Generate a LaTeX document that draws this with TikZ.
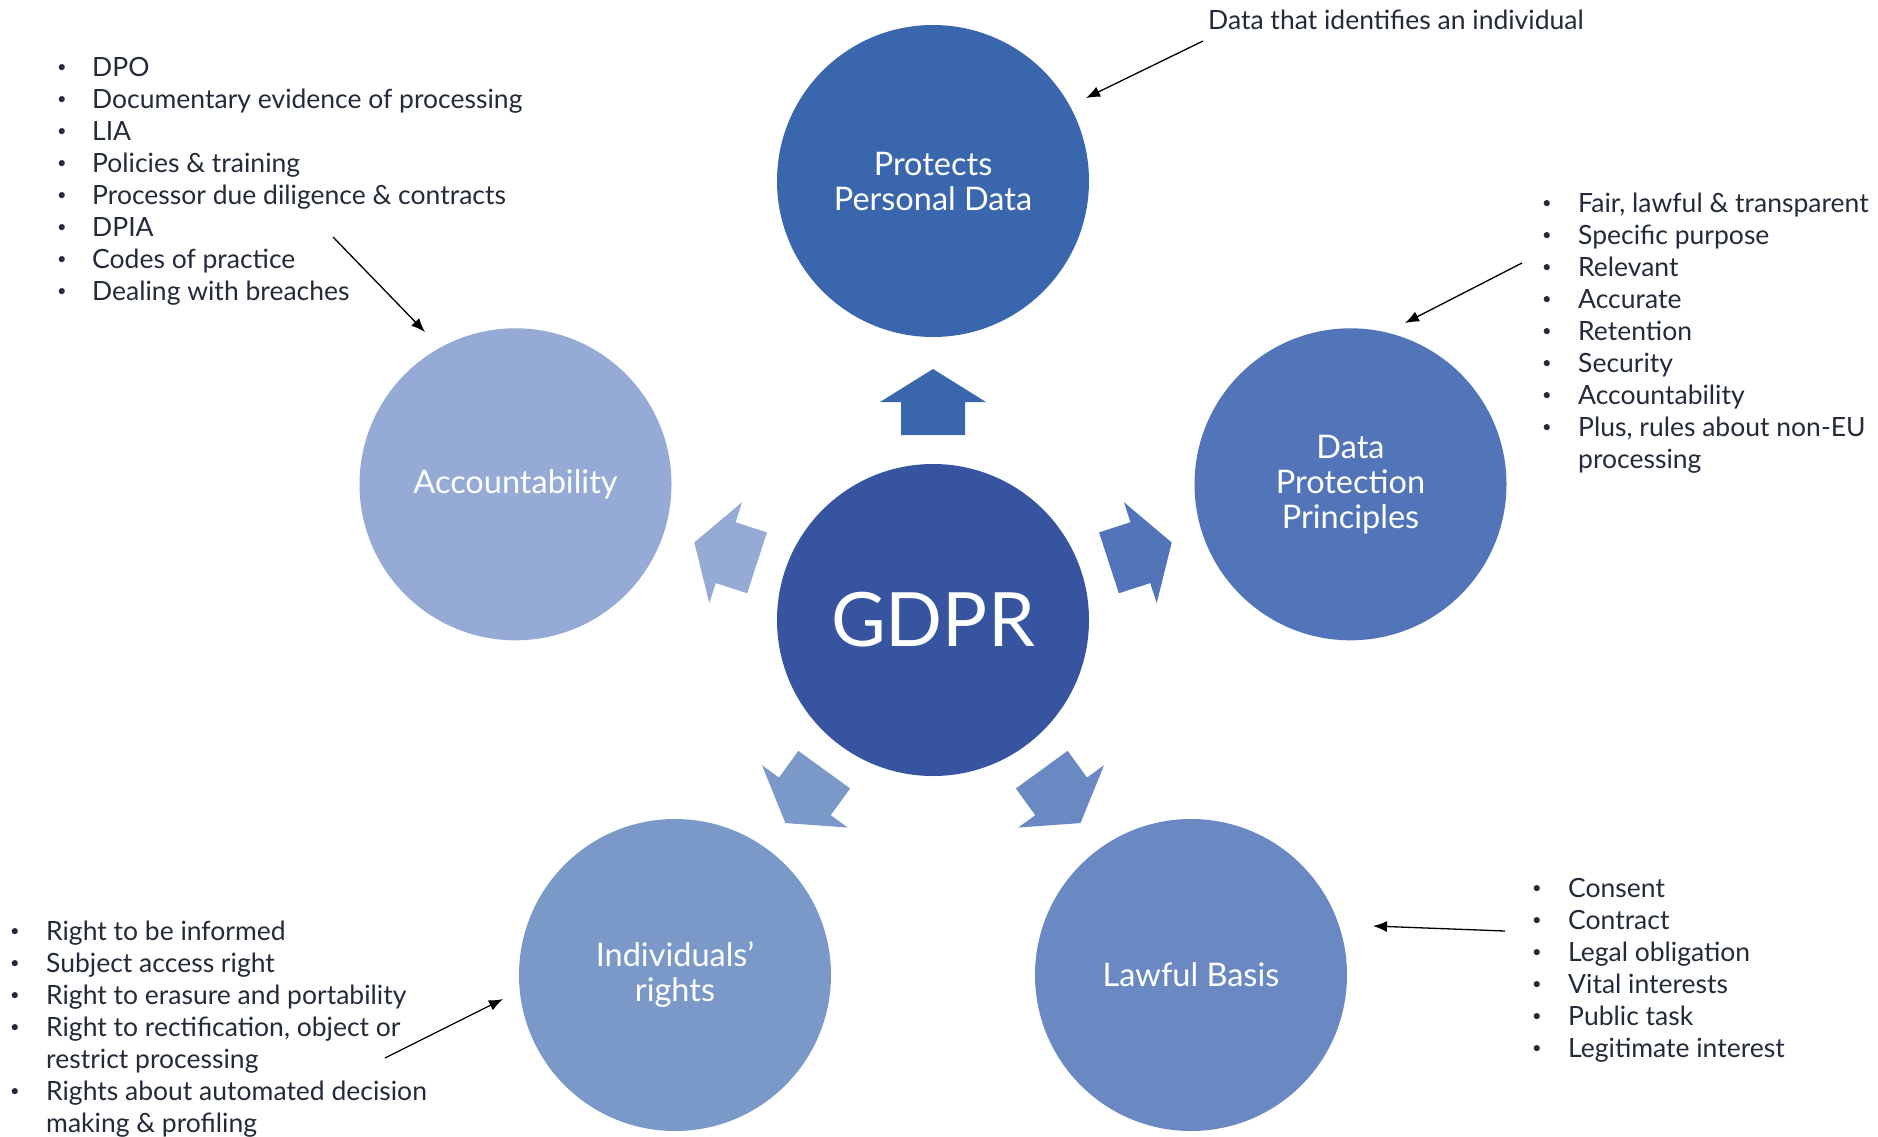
\documentclass[tikz,border=0pt]{standalone}
\usepackage{graphicx}
\usepackage{fontspec}
\setmainfont{Lato}
\usetikzlibrary{arrows.meta}
\definecolor{cGDPR}{HTML}{3754A0}
\definecolor{cTop}{HTML}{3A66AE}
\definecolor{cDPP}{HTML}{5275B9}
\definecolor{cLaw}{HTML}{6A89C2}
\definecolor{cInd}{HTML}{7A99C8}
\definecolor{cAcc}{HTML}{95AAD4}
\definecolor{txt}{HTML}{232B38}
\newcommand{\smallbul}{\raisebox{0.12em}{\scalebox{0.62}{\textbullet}}}
\begin{document}
\begin{tikzpicture}[x=1pt,y=-1pt,
  circ/.style={circle, minimum size=312pt, inner sep=0pt, text=white,
    font=\fontsize{32.5}{35}\selectfont, align=center},
  listtxt/.style={inner sep=0pt, text=txt, font=\fontsize{26.5}{32}\selectfont, anchor=base west},
  ptr/.style={draw=black, line width=1.3pt, -{Latex[length=14pt,width=11pt]}}]
\path[fill=white] (0,0) rectangle (1878,1136);
\useasboundingbox (0,0) rectangle (1878,1136);

% circles
\node[circ, fill=cGDPR, font=\fontsize{75}{90}\selectfont] (gdpr) at (933,620) {GDPR};
\node[circ, fill=cTop] (ppd) at (933,181) {Protects\\Personal Data};
\node[circ, fill=cDPP] (dpp) at (1350.5,484.3) {Data\\Protection\\Principles};
\node[circ, fill=cLaw] (law) at (1191,975) {Lawful Basis};
\node[circ, fill=cInd] (ind) at (675,975) {Individuals’\\rights};
\node[circ, fill=cAcc] (acc) at (515.5,484.3) {Accountability};

% block arrows
\foreach \ang/\col in {90/cTop, 18/cDPP, -54/cLaw, -126/cInd, 162/cAcc} {
  \fill[\col, shift={(933,620)}, rotate=\ang]
    (185,-32) -- (218,-32) -- (218,-53) -- (251,0) -- (218,53) -- (218,32) -- (185,32) -- cycle;
}

% texts
\node[listtxt] (dti) at (1208,29) {Data that identifies an individual};

\node[listtxt] (acclist) at (57,76) {\begin{tabular}[t]{@{}p{35pt}@{}l@{}}
\smallbul & DPO\\
\smallbul & Documentary evidence of processing\\
\smallbul & LIA\\
\smallbul & Policies \& training\\
\smallbul & Processor due diligence \& contracts\\
\smallbul & DPIA\\
\smallbul & Codes of practice\\
\smallbul & Dealing with breaches
\end{tabular}};

\node[listtxt] (dpplist) at (1542,212) {\begin{tabular}[t]{@{}p{36pt}@{}l@{}}
\smallbul & Fair, lawful \& transparent\\
\smallbul & Specific purpose\\
\smallbul & Relevant\\
\smallbul & Accurate\\
\smallbul & Retention\\
\smallbul & Security\\
\smallbul & Accountability\\
\smallbul & Plus, rules about non-EU\\
 & processing
\end{tabular}};

\node[listtxt] (indlist) at (10,940) {\begin{tabular}[t]{@{}p{36pt}@{}l@{}}
\smallbul & Right to be informed\\
\smallbul & Subject access right\\
\smallbul & Right to erasure and portability\\
\smallbul & Right to rectification, object or\\
 & restrict processing\\
\smallbul & Rights about automated decision\\
 & making \& profiling
\end{tabular}};

\node[listtxt] (lawlist) at (1532,897) {\begin{tabular}[t]{@{}p{36pt}@{}l@{}}
\smallbul & Consent\\
\smallbul & Contract\\
\smallbul & Legal obligation\\
\smallbul & Vital interests\\
\smallbul & Public task\\
\smallbul & Legitimate interest
\end{tabular}};

% pointer ends
\coordinate (dtiS) at (1203,41);  \coordinate (dtiE) at (1086,98);
\coordinate (accS) at (333,237);  \coordinate (accE) at (425,332);
\coordinate (dppS) at (1522,263); \coordinate (dppE) at (1405,323);
\coordinate (indS) at (385,1058); \coordinate (indE) at (503,999);
\coordinate (lawS) at (1505,931); \coordinate (lawE) at (1373,926);

\draw[ptr] (dtiS) -- (dtiE);
\draw[ptr] (accS) -- (accE);
\draw[ptr] (dppS) -- (dppE);
\draw[ptr] (indS) -- (indE);
\draw[ptr] (lawS) -- (lawE);
\end{tikzpicture}
\end{document}
